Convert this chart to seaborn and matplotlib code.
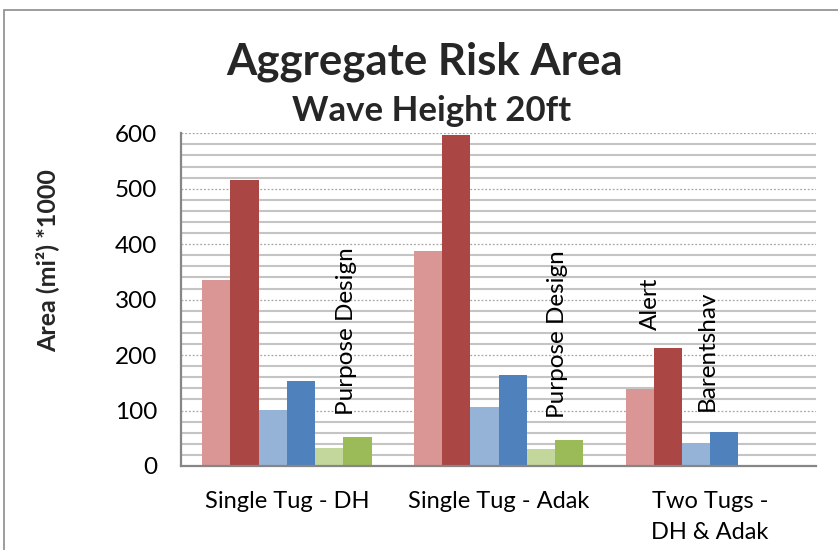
import matplotlib
matplotlib.use("Agg")
import matplotlib.pyplot as plt
from matplotlib.patches import Rectangle
from matplotlib.ticker import MultipleLocator
import numpy as np
import pandas as pd
import seaborn as sns

# Tug configurations on the x axis
categories = ["Single Tug - DH", "Single Tug - Adak", "Two Tugs -\nDH & Adak"]

# Risk area (mi² x 1000) for each vessel, low / high estimate
alert_low = [336, 388, 138]
alert_high = [516, 597, 212]
barentshav_low = [101, 107, 41]
barentshav_high = [154, 164, 61]
purpose_low = [33, 31, np.nan]
purpose_high = [52, 47, np.nan]

series_names = ["Alert low", "Alert high", "Barentshav low",
                "Barentshav high", "Purpose Design low", "Purpose Design high"]
series_values = [alert_low, alert_high, barentshav_low,
                 barentshav_high, purpose_low, purpose_high]
series_colors = ["#D99694", "#AA4644", "#95B3D7", "#4F81BD", "#C3D69B", "#9BBB59"]

# Vessel name labels: (text, category index, offset within group, height)
vessel_labels = [
    ("Purpose Design", 0, 0.28, 92),
    ("Purpose Design", 1, 0.28, 87),
    ("Alert", 2, -0.28, 245),
    ("Barentshav", 2, -0.015, 100),
]

rows = []
for name, vals in zip(series_names, series_values):
    for cat, v in zip(categories, vals):
        rows.append({"config": cat, "series": name, "area": v})
df = pd.DataFrame(rows)

sns.set_style("white")
plt.rcParams["font.family"] = ["Lato", "DejaVu Sans"]

fig = plt.figure(figsize=(8.38, 5.5), dpi=100)
ax = fig.add_axes([181 / 838, 1 - 466 / 550, 635 / 838, 332.7 / 550])

sns.barplot(data=df, x="config", y="area", hue="series", order=categories,
            hue_order=series_names, palette=series_colors, saturation=1,
            errorbar=None, width=0.8, linewidth=0, legend=False, ax=ax)

ax.set_ylim(0, 600)
ax.set_xlim(-0.5, 2.5)
ax.yaxis.set_major_locator(MultipleLocator(100))
ax.yaxis.set_minor_locator(MultipleLocator(20))
ax.set_axisbelow(True)
ax.grid(False)
ax.yaxis.grid(True, which="major", color="#A6A6A6", linestyle=(0, (1.5, 1.5)), linewidth=0.9)
ax.yaxis.grid(True, which="minor", color="#C4C4C4", linestyle="-", linewidth=1.5)

for side in ["top", "right"]:
    ax.spines[side].set_visible(False)
for side in ["left", "bottom"]:
    ax.spines[side].set_color("#868686")
    ax.spines[side].set_linewidth(1.6)

ax.tick_params(axis="y", which="both", length=0, pad=17, labelsize=17.5, labelcolor="black")
ax.tick_params(axis="x", which="both", length=0, pad=18, labelsize=17, labelcolor="black")
for lbl in ax.get_xticklabels():
    lbl.set_multialignment("center")
    lbl.set_linespacing(1.6)
ax.set_xlabel("")
ax.set_ylabel("")

for text, ci, off, h in vessel_labels:
    ax.text(ci + off, h, text, rotation=90, ha="center", va="bottom",
            fontsize=17.5, color="black")

fig.text(425 / 838, 1 - 62 / 550, "Aggregate Risk Area", ha="center", va="center",
         fontsize=31.5, fontweight="bold")
fig.text(432 / 838, 1 - 111 / 550, "Wave Height 20ft", ha="center", va="center",
         fontsize=25, fontweight="bold")
fig.text(47 / 838, 1 - 261 / 550, "Area (mi²) *1000", ha="center", va="center",
         rotation=90, fontsize=18, fontweight="bold")

fig.patches.append(Rectangle((4 / 838, -0.05), 1.2, 1 - 10 / 550 + 0.05, fill=False,
                             edgecolor="#8C8C8C", linewidth=1.2,
                             transform=fig.transFigure, figure=fig))

fig.savefig("out.png", dpi=100)
